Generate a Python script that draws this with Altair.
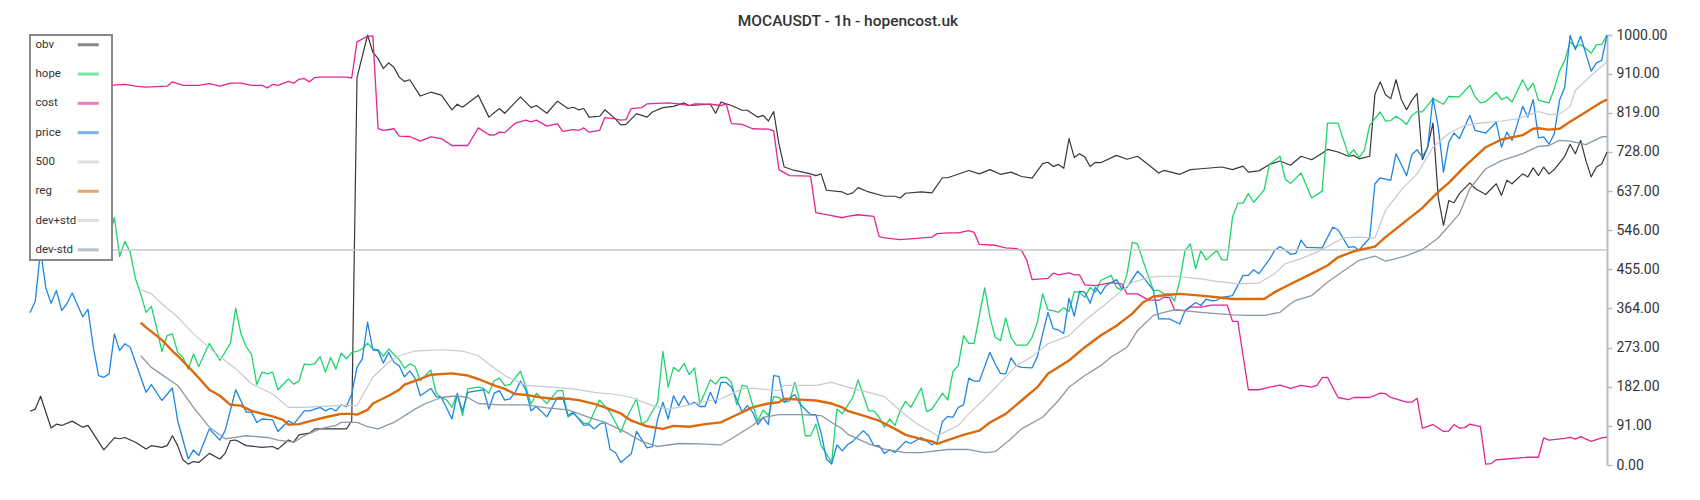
import altair as alt
import pandas as pd

# x = hour index (0..299), y = value
obv = [(0,125),(1,130),(2,160),(4,86),(5,95),(6,92),(8,102),(10,88),(11,92),(14,35),(16,63),(17,61),(18,64),(20,53),(22,37),(23,45),(25,41),(26,45),(27,68),(28,45),(29,12),(30,2),(31,8),(32,6),(34,27),(36,14),(37,27),(38,57),(39,58),(41,45),(44,41),(46,43),(47,37),(49,58),(50,53),(51,70),(53,74),(54,84),(57,84),(60,84),(61,103),(62,901),(64,1000),(65,960),(66,945),(67,922),(68,935),(69,925),(70,902),(71,892),(72,896),(74,858),(76,867),(78,860),(80,826),(81,839),(82,832),(85,860),(87,809),(89,829),(90,818),(93,856),(95,831),(96,836),(98,818),(100,846),(102,829),(103,832),(104,826),(105,829),(106,809),(108,811),(109,826),(111,805),(112,791),(113,792),(115,817),(117,809),(118,821),(120,831),(122,834),(124,842),(125,836),(129,839),(130,818),(131,844),(133,836),(135,825),(136,825),(138,809),(139,813),(140,800),(141,822),(142,747),(143,693),(145,685),(148,677),(149,673),(150,677),(151,639),(154,635),(155,629),(156,633),(157,645),(159,635),(162,625),(164,625),(165,621),(166,632),(169,635),(171,633),(173,668),(174,668),(178,685),(180,677),(182,687),(184,676),(186,681),(188,671),(190,667),(192,701),(193,704),(194,694),(195,699),(196,690),(197,759),(198,715),(199,724),(200,716),(201,694),(202,704),(203,703),(206,720),(208,711),(210,718),(212,699),(214,679),(215,685),(218,676),(220,687),(222,689),(226,693),(228,687),(230,695),(231,681),(233,684),(235,699),(237,707),(239,697),(241,718),(243,710),(245,725),(246,734),(248,728),(250,718),(251,720),(252,712),(254,718),(255,862),(256,891),(257,861),(258,852),(259,896),(260,850),(261,826),(262,848),(263,864),(264,710),(265,739),(266,795),(267,623),(268,557),(269,615),(270,610),(271,631),(273,656),(274,643),(276,629),(278,654),(279,627),(280,662),(281,654),(283,677),(284,670),(285,691),(286,673),(287,693),(288,677),(289,687),(291,718),(292,746),(293,724),(294,755),(295,708),(296,670),(297,693),(298,700),(299,728)]

hope = [(15,530),(16,575),(17,485),(18,520),(19,495),(20,433),(21,398),(22,355),(23,369),(24,320),(25,264),(26,301),(27,305),(28,262),(29,250),(30,223),(31,258),(32,229),(34,283),(36,243),(38,283),(39,365),(40,305),(41,275),(42,257),(43,187),(44,216),(45,212),(46,216),(47,175),(49,200),(50,188),(51,195),(52,235),(53,233),(54,236),(55,252),(56,216),(57,250),(58,223),(59,260),(60,247),(61,262),(62,264),(63,270),(64,283),(65,270),(66,268),(67,253),(68,270),(69,257),(70,245),(71,225),(72,235),(73,229),(74,196),(76,221),(77,167),(78,157),(79,151),(80,134),(81,167),(82,115),(83,177),(85,181),(86,178),(87,167),(88,196),(89,202),(90,185),(91,187),(93,218),(94,181),(95,142),(96,167),(98,143),(100,173),(101,173),(102,112),(103,120),(105,97),(106,97),(108,151),(110,122),(112,76),(113,107),(115,154),(116,95),(117,103),(119,146),(120,264),(121,181),(122,227),(123,218),(124,236),(125,210),(126,226),(127,142),(128,169),(129,198),(130,188),(131,204),(132,204),(133,192),(134,140),(135,185),(136,182),(137,140),(138,103),(139,128),(140,115),(141,159),(142,157),(143,146),(144,148),(145,192),(146,148),(147,68),(148,68),(149,95),(150,45),(152,6),(153,130),(154,119),(155,138),(156,157),(157,198),(159,126),(160,126),(161,111),(162,88),(163,107),(164,92),(165,126),(166,148),(167,134),(169,179),(170,124),(171,130),(173,167),(174,151),(175,218),(176,231),(177,301),(178,283),(179,283),(181,412),(182,344),(183,297),(184,289),(185,342),(186,296),(187,279),(189,279),(190,297),(191,332),(192,398),(193,361),(194,359),(195,355),(196,366),(197,357),(198,403),(199,402),(200,390),(201,413),(202,402),(203,429),(205,441),(206,413),(207,406),(208,445),(209,518),(210,514),(211,476),(212,441),(213,406),(214,406),(215,398),(216,398),(217,381),(218,429),(219,499),(220,514),(221,456),(222,499),(223,477),(225,499),(226,477),(227,477),(228,576),(229,609),(230,609),(231,631),(232,611),(234,640),(235,699),(237,718),(238,664),(239,655),(241,679),(243,621),(245,637),(246,795),(248,795),(250,720),(251,733),(252,715),(253,732),(254,790),(256,821),(257,800),(258,801),(259,811),(260,803),(261,792),(262,813),(263,822),(264,821),(266,852),(268,839),(269,857),(271,856),(273,883),(274,856),(275,842),(276,845),(278,867),(279,850),(280,856),(281,844),(283,896),(284,871),(285,888),(286,848),(288,842),(289,875),(290,916),(291,941),(292,984),(293,972),(294,978),(296,958),(297,977),(298,978),(299,1000)]

cost = [(0,882),(15,883),(18,885),(20,881),(22,879),(26,881),(27,891),(29,883),(32,883),(34,887),(36,881),(38,888),(40,888),(42,883),(44,883),(45,877),(46,885),(47,883),(49,892),(50,888),(51,897),(52,899),(53,891),(54,901),(55,902),(60,902),(61,900),(62,984),(64,997),(65,998),(66,782),(67,778),(69,782),(70,765),(72,764),(74,753),(76,763),(78,759),(80,743),(83,743),(85,784),(87,768),(88,767),(89,774),(90,773),(92,795),(94,802),(95,798),(96,802),(98,788),(100,794),(101,776),(103,780),(104,778),(105,784),(106,774),(108,778),(109,808),(111,805),(112,802),(113,803),(114,829),(116,831),(117,840),(121,842),(123,840),(125,836),(126,840),(129,839),(131,836),(132,840),(133,794),(135,792),(137,782),(140,781),(141,777),(142,687),(144,673),(148,672),(149,587),(152,580),(154,575),(155,578),(157,582),(160,578),(161,531),(162,528),(165,524),(171,530),(172,538),(174,540),(176,540),(178,545),(179,541),(180,513),(183,511),(185,505),(187,503),(188,499),(189,476),(190,431),(193,434),(194,446),(195,442),(197,447),(198,442),(199,442),(200,419),(202,417),(205,424),(207,421),(208,398),(210,398),(212,384),(214,383),(215,390),(216,390),(217,361),(219,359),(220,367),(222,367),(224,372),(227,372),(228,334),(229,334),(231,175),(233,175),(235,181),(237,186),(239,178),(241,185),(243,181),(244,185),(245,203),(246,204),(248,157),(250,152),(251,157),(254,157),(256,167),(257,166),(258,157),(261,146),(262,146),(263,155),(264,86),(266,94),(268,78),(269,79),(270,94),(271,86),(272,87),(273,95),(275,89),(276,2),(277,3),(278,12),(280,14),(282,16),(284,18),(286,18),(287,63),(288,58),(291,62),(292,64),(293,60),(294,66),(296,55),(298,63),(299,65)]

price = [(0,354),(1,381),(2,500),(3,412),(4,376),(5,406),(6,359),(7,375),(8,400),(10,345),(11,362),(12,274),(13,208),(14,204),(15,212),(16,305),(17,266),(18,282),(19,274),(22,169),(23,187),(25,150),(27,179),(28,103),(30,14),(31,35),(32,22),(34,84),(36,58),(37,80),(39,175),(41,123),(42,123),(43,99),(44,107),(46,105),(47,78),(49,103),(50,95),(52,126),(53,126),(55,134),(56,126),(57,132),(58,126),(59,140),(60,136),(61,165),(62,227),(63,247),(64,332),(65,268),(66,266),(67,237),(68,262),(69,239),(70,231),(71,205),(72,219),(73,202),(74,161),(76,178),(77,159),(78,157),(80,107),(81,164),(82,126),(83,169),(85,173),(86,175),(87,130),(88,167),(89,173),(90,151),(91,154),(92,169),(93,195),(94,175),(95,126),(96,136),(98,112),(100,157),(101,157),(102,115),(103,123),(105,92),(106,94),(107,84),(108,95),(109,99),(110,36),(111,29),(112,6),(114,26),(115,78),(117,40),(118,43),(119,107),(120,146),(121,107),(122,161),(123,138),(124,161),(125,140),(126,146),(127,136),(128,136),(129,169),(130,143),(131,192),(132,192),(133,181),(135,123),(136,138),(137,123),(138,94),(139,111),(140,94),(141,208),(142,206),(143,146),(145,164),(146,142),(148,117),(149,117),(150,74),(151,14),(152,2),(153,47),(154,33),(155,47),(156,55),(158,80),(159,68),(160,45),(161,45),(162,27),(163,35),(164,29),(166,55),(167,50),(169,64),(171,47),(172,53),(173,101),(174,113),(175,111),(176,134),(177,140),(178,202),(179,195),(180,195),(182,262),(183,235),(184,213),(185,212),(186,249),(187,231),(188,227),(190,226),(191,252),(192,305),(193,355),(194,317),(195,314),(196,306),(197,388),(198,346),(199,404),(200,402),(201,376),(202,413),(203,398),(204,417),(206,431),(207,410),(208,413),(210,451),(211,438),(213,406),(214,340),(216,340),(218,328),(219,359),(221,378),(222,371),(223,386),(224,382),(225,383),(226,390),(228,394),(230,441),(231,441),(232,454),(233,445),(235,478),(236,499),(237,508),(238,500),(239,490),(240,492),(241,523),(242,506),(245,505),(247,553),(248,547),(250,506),(251,508),(252,500),(254,528),(255,654),(256,668),(258,662),(259,724),(260,699),(261,673),(262,722),(263,733),(264,716),(265,739),(266,854),(267,786),(268,681),(269,751),(270,772),(271,759),(273,813),(274,778),(276,772),(278,797),(279,739),(280,774),(281,755),(282,792),(283,834),(284,809),(285,850),(286,761),(287,763),(288,746),(289,770),(290,848),(291,879),(292,999),(293,966),(294,997),(296,916),(297,935),(298,941),(299,1000)]

level500 = [(0,500),(299,500)]

reg = [(21,331),(22,320),(25,291),(27,265),(28,254),(31,216),(34,175),(36,161),(38,140),(40,138),(42,126),(46,113),(48,105),(49,94),(51,95),(54,105),(56,111),(59,119),(61,119),(62,117),(64,128),(65,143),(68,161),(70,175),(71,187),(74,200),(76,210),(80,213),(83,208),(85,200),(88,185),(90,177),(92,165),(94,163),(97,157),(99,154),(102,154),(104,151),(107,142),(109,134),(112,120),(114,103),(117,90),(120,84),(122,91),(125,89),(128,95),(131,99),(133,111),(137,134),(140,143),(142,146),(143,154),(146,152),(149,150),(152,143),(154,134),(155,126),(158,115),(161,103),(164,84),(166,70),(169,60),(171,55),(172,49),(174,58),(177,70),(180,80),(182,99),(185,119),(188,150),(191,181),(193,212),(197,243),(200,274),(203,301),(206,324),(209,352),(211,378),(213,392),(216,396),(218,398),(222,394),(225,390),(228,386),(231,386),(234,386),(236,402),(239,421),(241,433),(243,445),(246,464),(248,483),(251,497),(255,508),(257,530),(260,559),(264,598),(267,635),(269,656),(272,694),(276,739),(279,757),(283,767),(285,782),(286,783),(288,780),(290,782),(292,798),(295,821),(298,844),(299,850)]

dev_plus = [(21,408),(23,398),(25,375),(28,344),(31,305),(35,262),(39,224),(42,189),(46,165),(49,134),(52,134),(58,138),(62,138),(63,161),(65,204),(68,239),(70,254),(73,265),(78,268),(82,265),(85,254),(87,235),(90,208),(94,185),(99,181),(103,177),(107,169),(111,164),(114,157),(118,138),(121,130),(123,134),(127,146),(131,154),(135,177),(137,179),(140,175),(142,173),(143,185),(149,185),(152,192),(155,181),(159,169),(162,159),(165,126),(168,97),(171,76),(172,68),(174,80),(176,92),(178,119),(181,154),(184,192),(187,231),(190,252),(193,282),(197,301),(200,336),(204,375),(207,406),(209,425),(212,435),(214,439),(217,439),(222,433),(225,427),(229,421),(233,423),(236,445),(238,468),(241,480),(244,495),(249,528),(252,530),(255,528),(257,592),(260,640),(263,677),(266,739),(269,771),(272,790),(275,795),(279,800),(282,805),(284,813),(286,822),(288,815),(290,816),(292,834),(293,871),(296,906),(298,927),(299,937)]

dev_minus = [(21,254),(23,227),(28,185),(31,134),(34,88),(37,61),(41,68),(45,64),(47,58),(50,53),(52,68),(55,84),(58,92),(59,99),(62,99),(64,89),(66,84),(69,99),(73,130),(75,143),(78,157),(81,161),(83,157),(85,143),(89,140),(94,140),(98,133),(102,128),(106,111),(109,99),(113,76),(116,55),(119,43),(123,50),(127,49),(131,47),(133,61),(137,92),(139,111),(142,117),(146,117),(150,115),(152,99),(154,84),(155,72),(159,49),(162,37),(166,29),(169,29),(174,36),(178,36),(181,29),(183,31),(186,61),(188,84),(192,111),(195,150),(197,181),(200,208),(203,231),(205,251),(208,274),(210,313),(213,348),(215,355),(217,361),(222,355),(225,352),(228,349),(231,348),(234,348),(237,355),(239,375),(240,383),(243,394),(246,425),(249,451),(252,476),(255,486),(257,474),(259,480),(261,487),(264,501),(267,528),(271,584),(273,643),(276,689),(279,708),(283,724),(286,741),(288,743),(290,755),(292,753),(295,745),(298,763),(299,764)]

series_names = ["obv", "hope", "cost", "price", "500", "reg", "dev+std", "dev-std"]
series_data = [obv, hope, cost, price, level500, reg, dev_plus, dev_minus]
y_ticks = [0, 91, 182, 273, 364, 455, 546, 637, 728, 819, 910, 1000]

# styles (kept apart from the data)
colors = ["#383838", "#1fd46c", "#e3268e", "#1e86e2", "#c9c9c9", "#da6a0c", "#c4cacf", "#8b98a3"]
widths = [1.2, 1.3, 1.3, 1.3, 1.6, 2.4, 1.2, 1.3]

rows = []
for name, w, pts in zip(series_names, widths, series_data):
    for t, v in pts:
        rows.append({"series": name, "t": t, "v": v, "lw": w})
df = pd.DataFrame(rows)

chart = alt.Chart(df).mark_line(strokeJoin="round").encode(
    x=alt.X("t:Q", scale=alt.Scale(domain=[0, 299], nice=False, zero=False), axis=None),
    y=alt.Y("v:Q", scale=alt.Scale(domain=[0, 1000], nice=False),
            axis=alt.Axis(orient="right", values=y_ticks, format=".2f", grid=False, title=None,
                          domainColor="#b3bdc5", domainWidth=2, tickColor="#b3bdc5", tickWidth=1.5,
                          tickSize=5, labelPadding=4, labelFont="Roboto", labelFontSize=14,
                          labelColor="#333333")),
    color=alt.Color("series:N", scale=alt.Scale(domain=series_names, range=colors),
                    legend=alt.Legend(orient="none", legendX=0, legendY=0, direction="vertical",
                                      title=None, symbolType="M-3,0H3M3.8,0h0", symbolSize=49,
                                      symbolStrokeWidth=3, symbolOpacity=0.6,
                                      labelFont="Roboto", labelFontSize=11.5, labelColor="#333333",
                                      fillColor="white", strokeColor="#888888", padding=4,
                                      rowPadding=16.3,
                                      labelOffset={"expr": "-58.5"}, symbolOffset=48.5)),
    strokeWidth=alt.StrokeWidth("lw:Q", scale=None),
    detail="series:N",
).properties(
    width=1577, height=430,
    title=alt.TitleParams("MOCAUSDT - 1h - hopencost.uk", font="Roboto", fontSize=15.5,
                          fontWeight=500, color="#333333", anchor="middle", frame="bounds", offset=-1),
    autosize=alt.AutoSizeParams(type="none"),
    padding={"left": 22, "top": 27, "right": 80, "bottom": 20},
).configure_view(stroke=None).configure_legend(strokeWidth=2, symbolStrokeWidth=3)

chart.save("out.html", embed_options={"renderer": "svg", "actions": False})
